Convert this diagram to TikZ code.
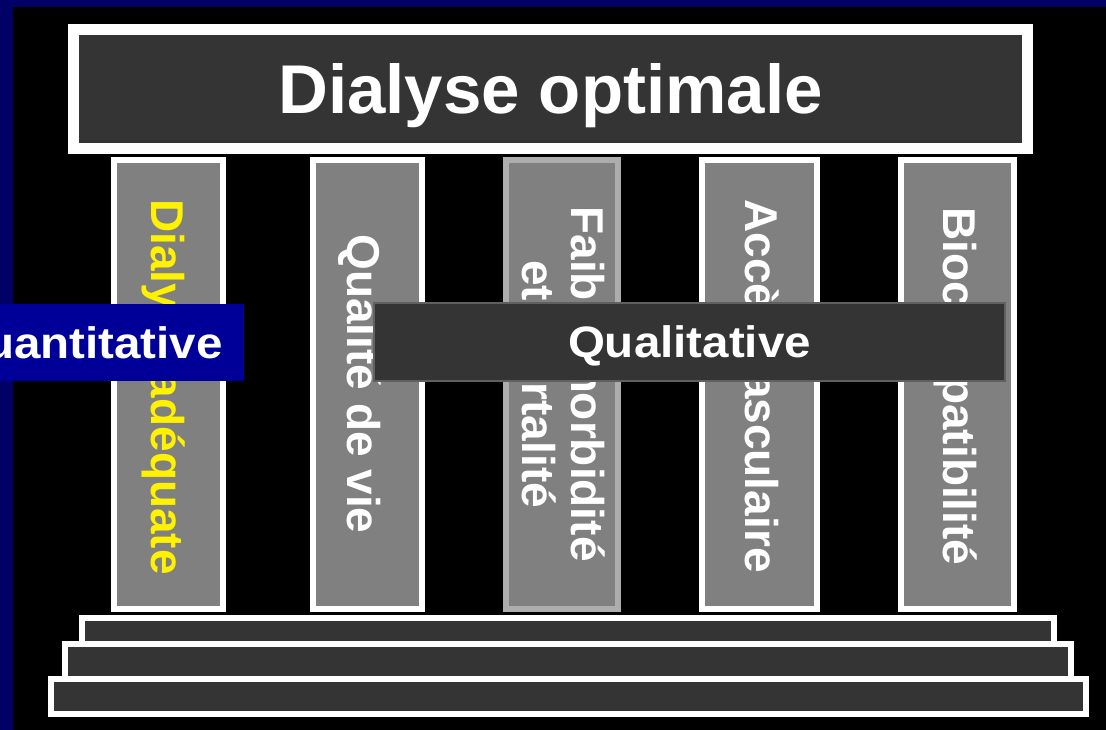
\documentclass[tikz,border=0pt]{standalone}
\usepackage{fontspec}
\setmainfont{Liberation Sans}
\newfontfamily\widesans[FakeStretch=1.08]{Liberation Sans}
\definecolor{frameblue}{RGB}{0,0,102}
\definecolor{quantblue}{RGB}{0,0,153}
\definecolor{slab}{RGB}{52,52,52}
\definecolor{shaft}{RGB}{128,128,128}
\definecolor{paleedge}{RGB}{173,173,173}
\definecolor{bandedge}{RGB}{96,96,96}

\begin{document}
\begin{tikzpicture}[x=1pt,y=-1pt,
  every node/.style={inner sep=0pt, outer sep=0pt},
  roofbox/.style={draw=white, line width=11pt, fill=slab, text=white,
    font=\fontsize{69}{69}\selectfont\bfseries, text height=49pt, text depth=0pt},
  pillar/.style={draw=white, line width=6pt, fill=shaft, minimum height=449pt},
  pillartext/.style={rotate=-90, anchor=base, text=white,
    font=\fontsize{46}{49}\selectfont\bfseries},
  stair/.style={draw=white, line width=6pt, fill=slab},
  band/.style={text=white, font=\widesans\fontsize{44}{44}\selectfont\bfseries,
    text height=31.5pt, text depth=0pt}
]
\clip (0,0) rectangle (1106,730);
\useasboundingbox (0,0) rectangle (1106,730);

% page background with its blue edge
\fill[frameblue] (0,0) rectangle (1106,730);
\fill[black] (13,7) rectangle (1106,730);

% roof
\node[roofbox, minimum width=954pt, minimum height=119pt] (roof) at (550.5,89) {Dialyse optimale};

% pillars
\node[pillar, minimum width=109pt] (p1) at (168.5,384.5) {};
\node[pillar, minimum width=109pt] (p2) at (367.5,384.5) {};
\node[pillar, minimum width=112pt, draw=paleedge] (p3) at (562,384.5) {};
\node[pillar, minimum width=115pt] (p4) at (759.5,384.5) {};
\node[pillar, minimum width=113pt] (p5) at (957.5,384.5) {};

% pillar labels, read from top to bottom
\node[pillartext, text=yellow] (t1) at (151,387) {Dialyse adéquate};
\node[pillartext] (t2) at (347,384) {Qualité de vie};
\node[pillartext, align=center] (t3) at (522,384) {Faible morbidité\\et mortalité};
\node[pillartext] (t4) at (745,386) {Accès vasculaire};
\node[pillartext] (t5) at (943,386.5) {Biocompatibilité};

% stairs
\node[stair, minimum width=972pt, minimum height=26pt] (s1) at (568,631) {};
\node[stair, minimum width=1006pt, minimum height=35pt] (s2) at (568,661.5) {};
\node[stair, minimum width=1035pt, minimum height=35pt] (s3) at (568.5,696.5) {};

% crossing bands
\node[band, fill=quantblue, minimum width=317pt, minimum height=77pt] (quant) at (85.5,342.5) {Quantitative};
\node[band, fill=slab, draw=bandedge, line width=2pt, minimum width=631pt, minimum height=78pt] (qual) at (689.5,342) {Qualitative};
\end{tikzpicture}
\end{document}
